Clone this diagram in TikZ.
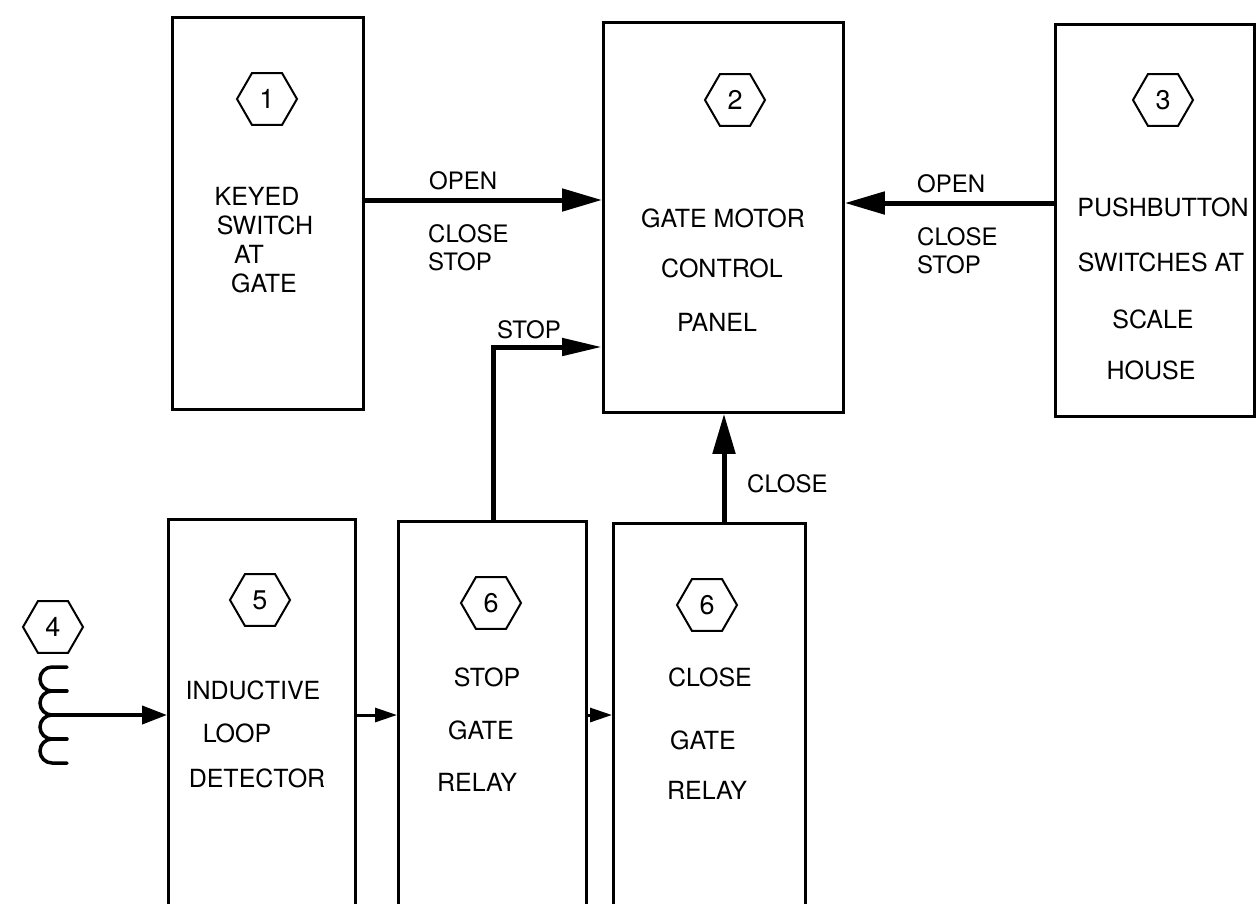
\documentclass[tikz,border=0pt]{standalone}
\usepackage{fontspec}
\setmainfont{TeX Gyre Heros}
\usetikzlibrary{arrows.meta,shapes.geometric}
\begin{document}
\begin{tikzpicture}[x=1pt,y=-1pt,
  box/.style={draw,line width=2.8pt,inner sep=0pt,anchor=north west},
  hexa/.style={draw,regular polygon,regular polygon sides=6,minimum size=60pt,inner sep=0pt,line width=2pt,text height=18pt,text depth=0pt,font=\fontsize{27}{27}\selectfont},
  txt/.style={inner sep=0pt,text height=18pt,text depth=0pt,font=\fontsize{25}{25}\selectfont},
  lbl/.style={inner sep=0pt,text height=17pt,text depth=0pt,anchor=west,font=\fontsize{24}{24}\selectfont},
  big/.style={line width=5pt,-{Triangle[length=40pt,width=22pt]}},
  slim/.style={line width=5pt,-{Triangle[length=40pt,width=17pt]}},
  small/.style={line width=3pt,-{Triangle[length=22pt,width=14pt]}},
  coilarrow/.style={line width=4pt,-{Triangle[length=25pt,width=18pt]}},
  coilline/.style={line width=3.5pt,line cap=round},
]
\useasboundingbox (0,0) rectangle (1258,903);
\clip (0,0) rectangle (1258,903);

% boxes
\node[box,minimum width=191pt,minimum height=392pt] (b1) at (171,16) {};
\node[box,minimum width=240pt,minimum height=390pt] (b2) at (602,21) {};
\node[box,minimum width=199pt,minimum height=392pt] (b3) at (1054,23) {};
\node[box,minimum width=187pt,minimum height=440pt] (b5) at (167,518) {};
\node[box,minimum width=188pt,minimum height=440pt] (b6a) at (397,520) {};
\node[box,minimum width=192pt,minimum height=440pt] (b6b) at (612,522) {};

% hexagon tags
\node[hexa] (h1) at (267,99) {1};
\node[hexa] (h2) at (735,100) {2};
\node[hexa] (h3) at (1163,100) {3};
\node[hexa] (h4) at (53,627) {4};
\node[hexa] (h5) at (260,600) {5};
\node[hexa] (h6a) at (491,603) {6};
\node[hexa] (h6b) at (707,605) {6};

% box texts
\node[txt] (t1a) at (257,196) {KEYED};
\node[txt] (t1b) at (265,225) {SWITCH};
\node[txt] (t1c) at (249,254) {AT};
\node[txt] (t1d) at (264,283) {GATE};

\node[txt] (t2a) at (723,218) {GATE MOTOR};
\node[txt] (t2b) at (722,268) {CONTROL};
\node[txt] (t2c) at (717,322) {PANEL};

\node[txt] (t3a) at (1163,207) {PUSHBUTTON};
\node[txt] (t3b) at (1161,262) {SWITCHES AT};
\node[txt] (t3c) at (1153,319) {SCALE};
\node[txt] (t3d) at (1151,370) {HOUSE};

\node[txt] (t5a) at (253,690) {INDUCTIVE};
\node[txt] (t5b) at (237,733) {LOOP};
\node[txt] (t5c) at (257,778) {DETECTOR};

\node[txt] (t6a) at (487,677) {STOP};
\node[txt] (t6b) at (481,730) {GATE};
\node[txt] (t6c) at (477,782) {RELAY};

\node[txt] (t7a) at (710,677) {CLOSE};
\node[txt] (t7b) at (703,740) {GATE};
\node[txt] (t7c) at (707,790) {RELAY};

% connector labels
\node[lbl] (l1) at (429,181) {OPEN};
\node[lbl] (l2) at (428,234) {CLOSE};
\node[lbl] (l3) at (428,262) {STOP};
\node[lbl] (r1) at (917,184) {OPEN};
\node[lbl] (r2) at (917,237) {CLOSE};
\node[lbl] (r3) at (917,265) {STOP};
\node[lbl] (ls) at (497,330) {STOP};
\node[lbl] (lc) at (747,484) {CLOSE};

% helper coordinates
\coordinate (yopen) at (0,200);
\coordinate (yopenr) at (0,203);
\coordinate (stopc) at (493,347);
\coordinate (closec) at (724,0);
\coordinate (ybot) at (0,715);
\coordinate (tap) at (52,715);

% connectors
\draw[big] (b1.east |- yopen) -- (b2.west |- yopen);
\draw[big] (b3.west |- yopenr) -- (b2.east |- yopenr);
\draw[slim] (b6a.north -| stopc) |- (b2.west |- stopc);
\draw[big] (b6b.north -| closec) -- (b2.south -| closec);
\draw[coilarrow] (tap) -- (b5.west |- tap);
\draw[small] (b5.east |- ybot) -- (b6a.west |- ybot);
\draw[small] (b6a.east |- ybot) -- (b6b.west |- ybot);

% coil (item 4)
\draw[coilline] (67,667) -- (52,667)
  arc[start angle=270,end angle=90,radius=12]
  arc[start angle=270,end angle=90,radius=12]
  arc[start angle=270,end angle=90,radius=12]
  arc[start angle=270,end angle=90,radius=12]
  -- (67,763);
\draw[coilline] (52,691) -- (67,691);
\draw[coilline] (52,739) -- (67,739);
\end{tikzpicture}
\end{document}
